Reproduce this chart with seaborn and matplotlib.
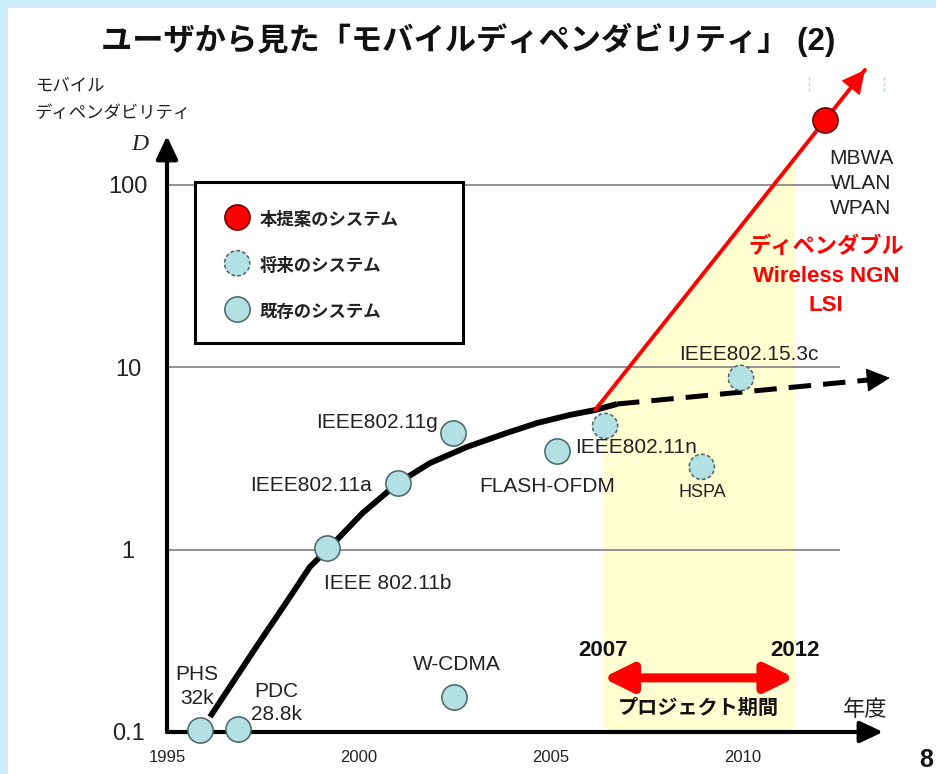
import numpy as np
import matplotlib
matplotlib.use("Agg")
import matplotlib.pyplot as plt
import seaborn as sns
from matplotlib.patches import Rectangle
from matplotlib.lines import Line2D
from matplotlib.ticker import NullLocator

# --- data (year, dependability D) ---
curve_year = [1996.12, 1997.34, 1998.20, 1998.72, 1999.17, 2000.10, 2001.02,
              2001.85, 2002.81, 2003.85, 2004.64, 2005.49, 2006.15, 2006.72]
curve_d = [0.121, 0.296, 0.549, 0.803, 0.996, 1.59, 2.32,
           2.98, 3.65, 4.36, 4.94, 5.47, 5.82, 6.28]

trend_year = [2006.72, 2013.83]
trend_d = [6.28, 8.73]

proposal_year = [2006.15, 2013.18]
proposal_d = [5.82, 426]

existing_names = ["PHS\n32k", "PDC\n28.8k", "W-CDMA", "IEEE 802.11b",
                  "IEEE802.11a", "IEEE802.11g", "FLASH-OFDM"]
existing_year = [1995.86, 1996.85, 2002.47, 1999.17, 2001.02, 2002.45, 2005.16]
existing_d = [0.103, 0.104, 0.156, 1.02, 2.32, 4.35, 3.47]

planned_names = ["IEEE802.11n", "HSPA", "IEEE802.15.3c"]
planned_year = [2006.41, 2008.93, 2009.95]
planned_d = [4.76, 2.84, 8.73]

proposed_names = ["MBWA\nWLAN\nWPAN"]
proposed_year = [2012.14]
proposed_d = [226]

project_years = [2006.35, 2011.35]
project_labels = ["2007", "2012"]

grid_d = [1, 10, 100]
x_ticks = [1995, 2000, 2005, 2010]
y_ticks = [0.1, 1, 10, 100]
y_ticklabels = ["0.1", "1", "10", "100"]

# label placement: offset in pixels (dx right, dy down), alignment, line spacing
label_pos = {
    "PHS\n32k": (-3, -43, "center", 1.3),
    "PDC\n28.8k": (38, -26, "center", 1.3),
    "W-CDMA": (3, -32, "center", 1.2),
    "IEEE 802.11b": (61, 35, "center", 1.2),
    "IEEE802.11a": (-26, 3, "right", 1.2),
    "IEEE802.11g": (-15, -11, "right", 1.2),
    "FLASH-OFDM": (-10, 35, "center", 1.2),
    "IEEE802.11n": (-30, 22, "left", 1.2),
    "HSPA": (1, 26, "center", 1.2),
    "IEEE802.15.3c": (8, -23, "center", 1.2),
    "MBWA\nWLAN\nWPAN": (36, 63, "center", 1.4),
}

W, H = 936, 774
sns.set_style("white")
plt.rcParams['font.family'] = ['Liberation Sans', 'Noto Sans CJK JP']
TXT = '#222222'

fig = plt.figure(figsize=(W / 100, H / 100), dpi=100)
fig.patch.set_facecolor('#cdedfc')
fig.patches.append(Rectangle((8 / W, 0), 1, 1 - 8 / H, transform=fig.transFigure,
                             facecolor='white', edgecolor='none', zorder=-5))

ax = fig.add_axes([167 / W, (H - 732) / H, 716 / W, 596 / H])
ax.set_facecolor('none')
ax.set_yscale('log')
ax.set_xlim(1995, 2013.65)
ax.set_ylim(0.1, 185)
for s in ax.spines.values():
    s.set_visible(False)

# project period shading (under the red line)
xs = np.linspace(project_years[0], project_years[1], 60)
top = 10 ** np.interp(xs, proposal_year, np.log10(proposal_d))
ax.fill_between(xs, 0.1, top, color='#ffffd2', lw=0, zorder=1)

ax.hlines(grid_d, 1995, 2012.53, color='#8a8a8a', lw=1.3, zorder=2)

# ticks
ax.set_xticks(x_ticks)
ax.set_xticklabels([str(t) for t in x_ticks])
ax.tick_params(axis='x', direction='in', length=14, width=1.1, color='#555555',
               labelsize=12, pad=13, labelcolor=TXT)
ax.set_yticks(y_ticks)
ax.set_yticklabels(y_ticklabels)
ax.yaxis.set_minor_locator(NullLocator())
ax.tick_params(axis='y', length=0, labelsize=17, pad=28, labelcolor=TXT)
for lbl in ax.get_yticklabels():
    lbl.set_horizontalalignment('center')

# axes arrows
axis_arrow = dict(arrowstyle='-|>,head_length=0.7,head_width=0.33', color='black',
                  lw=3, shrinkA=0, shrinkB=0, mutation_scale=20)
ax.annotate("", xy=(2013.65, 0.1), xytext=(1995, 0.1), arrowprops=axis_arrow,
            annotation_clip=False, zorder=3)
ax.annotate("", xy=(1995, 185), xytext=(1995, 0.1), arrowprops=axis_arrow,
            annotation_clip=False, zorder=3)

# curves
sns.lineplot(x=curve_year, y=curve_d, ax=ax, color='black', lw=4.2, sort=False,
             estimator=None, zorder=4, solid_capstyle='butt', solid_joinstyle='round')
sns.lineplot(x=trend_year, y=trend_d, ax=ax, color='black', lw=3.6, sort=False,
             estimator=None, zorder=4, linestyle=(0, (4.5, 2.4)))
sns.lineplot(x=proposal_year, y=proposal_d, ax=ax, color='#ff0000', lw=2.8, sort=False,
             estimator=None, zorder=4)
for ln in ax.lines:
    ln.set_clip_on(False)


def head(xv, yv, color):
    t0 = 10 ** (np.log10(yv[0]) + 0.96 * (np.log10(yv[1]) - np.log10(yv[0])))
    x0 = xv[0] + 0.96 * (xv[1] - xv[0])
    ax.annotate("", xy=(xv[1], yv[1]), xytext=(x0, t0),
                arrowprops=dict(arrowstyle='-|>,head_length=0.75,head_width=0.38',
                                color=color, lw=1, shrinkA=0, shrinkB=0,
                                mutation_scale=20),
                annotation_clip=False, zorder=4)


head(trend_year, trend_d, 'black')
head(proposal_year, proposal_d, '#ff0000')

# points
sns.scatterplot(x=existing_year, y=existing_d, ax=ax, s=330, color='#b3e0e3',
                edgecolor='#4a6466', linewidth=1.1, zorder=6, clip_on=False,
                label='既存のシステム')
sns.scatterplot(x=planned_year, y=planned_d, ax=ax, s=330, color='#b3e0e3',
                edgecolor='#4a6466', linewidth=1.1, linestyle=(0, (2.5, 1.5)),
                zorder=6, clip_on=False, label='将来のシステム')
sns.scatterplot(x=proposed_year, y=proposed_d, ax=ax, s=330, color='#ff0000',
                edgecolor='#5a0000', linewidth=1.1, zorder=6, clip_on=False,
                label='本提案のシステム')
if ax.get_legend():
    ax.get_legend().remove()

for names, xv, yv in [(existing_names, existing_year, existing_d),
                      (planned_names, planned_year, planned_d),
                      (proposed_names, proposed_year, proposed_d)]:
    for n, x, y in zip(names, xv, yv):
        dx, dy, ha, lsp = label_pos[n]
        fs = 13 if n == "HSPA" else 15
        ax.annotate(n, (x, y), xytext=(dx, -dy), textcoords='offset pixels',
                    ha=ha, va='center', fontsize=fs, color=TXT, linespacing=lsp,
                    annotation_clip=False, zorder=7)

ax.annotate("ディペンダブル\nWireless NGN\nLSI", (proposed_year[0], proposed_d[0]),
            xytext=(1, -156), textcoords='offset pixels', ha='center', va='center',
            fontsize=16, fontweight='bold', color='#ff0000', linespacing=1.5,
            annotation_clip=False, zorder=7)

# project period
ax.annotate("", xy=(project_years[1], 0.198), xytext=(project_years[0], 0.198),
            arrowprops=dict(arrowstyle='<|-|>,head_length=0.85,head_width=0.42',
                            color='#ff0000', lw=6.5, shrinkA=0, shrinkB=0,
                            mutation_scale=20),
            annotation_clip=False, zorder=5)
for x, t in zip(project_years, project_labels):
    ax.text(x, 0.28, t, ha='center', va='center', fontsize=16, fontweight='bold',
            color='#111111', zorder=7)
ax.text(np.mean(project_years), 0.135, "プロジェクト期間", ha='center', va='center',
        fontsize=14.5, fontweight='bold', color='#111111', zorder=7)

# legend
handles, labels = ax.get_legend_handles_labels()
order = ['本提案のシステム', '将来のシステム', '既存のシステム']
hmap = dict(zip(labels, handles))
fig.patches.append(Rectangle((195 / W, 1 - 343 / H), 268 / W, 161 / H,
                             transform=fig.transFigure, facecolor='white',
                             edgecolor='black', lw=2.2, zorder=5))
fig.legend([hmap[k] for k in order], order, loc='center left',
           bbox_to_anchor=(225 / W, 1 - 265 / H), frameon=False,
           prop={'size': 12.5, 'weight': 'bold'}, handlelength=1.4, handleheight=1.4,
           handletextpad=0.6, labelspacing=1.5, borderpad=0, borderaxespad=0,
           scatterpoints=1, labelcolor=TXT)

# texts
fig.text(468 / W, 1 - 40 / H, "ユーザから見た「モバイルディペンダビリティ」 (2)",
         ha='center', va='center', fontsize=22.5, fontweight='bold', color='#111111')
fig.text(35 / W, 1 - 86 / H, "モバイル", ha='left', va='center', fontsize=12.5, color=TXT)
fig.text(35 / W, 1 - 113 / H, "ディペンダビリティ", ha='left', va='center',
         fontsize=12.5, color=TXT)
fig.text(140 / W, 1 - 144 / H, "D", ha='center', va='center', fontsize=17,
         style='italic', family='Liberation Serif', color=TXT)
fig.text(865 / W, 1 - 710 / H, "年度", ha='center', va='center', fontsize=16, color=TXT)
fig.text(926 / W, 1 - 760 / H, "8", ha='center', va='center', fontsize=18,
         fontweight='bold', color='#111111')
for gx in [809, 884]:
    fig.add_artist(Line2D([gx / W, gx / W], [1 - 77 / H, 1 - 93 / H], color='#a8dca8',
                          lw=1, ls=(0, (2, 2)), transform=fig.transFigure))

fig.savefig("out.png", dpi=100, facecolor=fig.get_facecolor())
